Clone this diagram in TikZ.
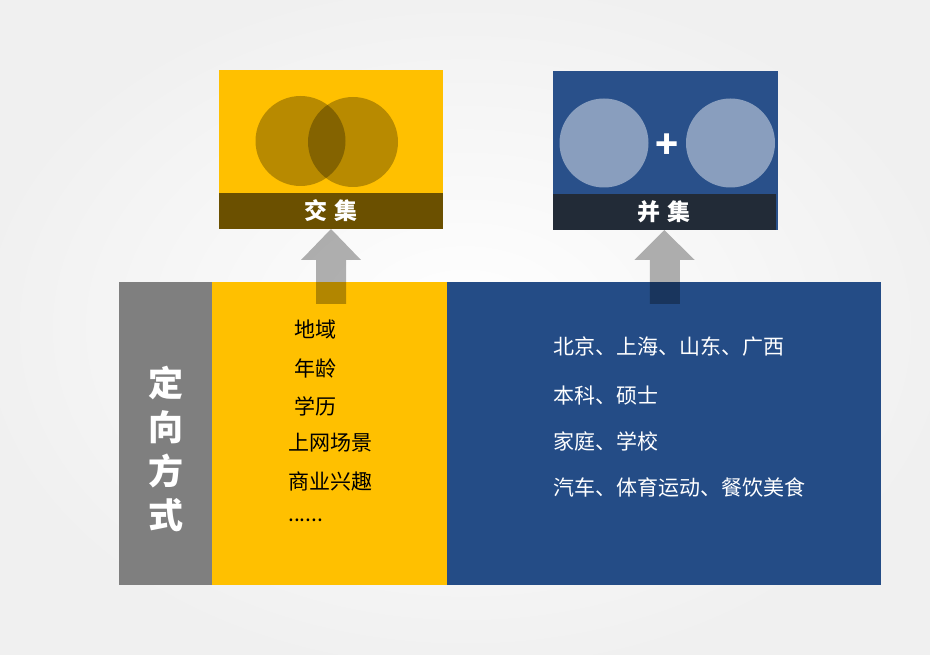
\documentclass[tikz,border=0pt]{standalone}
\usepackage{fontspec}
\setmainfont{Noto Sans CJK SC}
\definecolor{gold}{HTML}{FFC000}
\definecolor{navy}{HTML}{244C86}
\definecolor{navytop}{HTML}{29508A}
\definecolor{slate}{HTML}{222B37}
\definecolor{sidegray}{HTML}{7F7F7F}
\tikzset{
  box/.style={inner sep=0pt,outer sep=0pt,draw=none,anchor=north west},
  listtxt/.style={anchor=west,inner sep=0pt,font=\fontsize{21}{24}\selectfont},
  bandtxt/.style={inner sep=0pt,text=white,font=\bfseries\fontsize{23}{26}\selectfont},
  blockarrow/.style={fill=black,fill opacity=0.3,draw=none}
}
\begin{document}
\begin{tikzpicture}[x=1pt,y=-1pt]
\useasboundingbox (0,0) rectangle (930,655);
\shade[inner color=white,outer color=black!6] (-40,-30) rectangle (970,685);
% bottom panels
\node[box,fill=sidegray,minimum width=93pt,minimum height=303pt] (side) at (119,282) {};
\node[box,fill=gold,minimum width=235pt,minimum height=303pt] (ylist) at (212,282) {};
\node[box,fill=navy,minimum width=434pt,minimum height=303pt] (blist) at (447,282) {};
\node[inner sep=0pt,text=white,align=center,font=\bfseries\fontsize{35}{44}\selectfont] (title) at (165.5,449) {定\\向\\方\\式};
% left list
\node[listtxt] (l1) at (294,330) {地域};
\node[listtxt] (l2) at (294,368) {年龄};
\node[listtxt] (l3) at (294,406) {学历};
\node[listtxt] (l4) at (288,443) {上网场景};
\node[listtxt] (l5) at (288,481) {商业兴趣};
\node[listtxt] (l6) at (288,520) {......};
% right list
\node[listtxt,text=white] (r1) at (553,347) {北京、上海、山东、广西};
\node[listtxt,text=white] (r2) at (553,396) {本科、硕士};
\node[listtxt,text=white] (r3) at (553,441) {家庭、学校};
\node[listtxt,text=white] (r4) at (553,488) {汽车、体育运动、餐饮美食};
% intersection box
\node[box,fill=gold,minimum width=224pt,minimum height=159pt] (inter) at (219,70) {};
\fill[black,fill opacity=0.28] (300.5,141) circle (45);
\fill[black,fill opacity=0.28] (353,142) circle (45);
\node[box,fill=black,fill opacity=0.58,minimum width=224pt,minimum height=36pt] (interband) at (219,193) {};
\node[bandtxt] (intertxt) at (interband.center) {交\hspace{7pt}集};
% union box
\node[box,fill=navytop,minimum width=225pt,minimum height=159pt] (union) at (553,71) {};
\fill[white,fill opacity=0.45] (604,143) circle (44.5);
\fill[white,fill opacity=0.45] (730.5,143) circle (44.5);
\node[inner sep=0pt,text=white,font=\bfseries\fontsize{38}{40}\selectfont] (plus) at (667,146) {+};
\node[box,fill=slate,minimum width=222.5pt,minimum height=36pt] (unionband) at (553,194) {};
\node[bandtxt] (uniontxt) at (unionband.center) {并\hspace{7pt}集};
% block arrows
\coordinate (ta) at (interband.south);
\coordinate (tb) at (unionband.south);
\fill[blockarrow] (ta) -- ++(30,31) -- ++(-15,0) -- ++(0,44) -- ++(-30,0) -- ++(0,-44) -- ++(-15,0) -- cycle;
\fill[blockarrow] (tb) -- ++(30.5,30) -- ++(-15,0) -- ++(0,44) -- ++(-30,0) -- ++(0,-44) -- ++(-15.5,0) -- cycle;
\end{tikzpicture}
\end{document}
